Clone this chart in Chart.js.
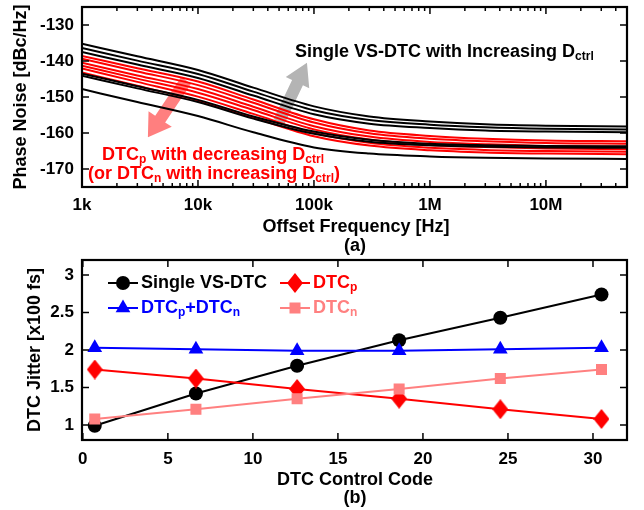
<!DOCTYPE html>
<html><head><meta charset="utf-8">
<script src="https://cdn.jsdelivr.net/npm/chart.js@4/dist/chart.umd.min.js"></script>
<style>
html,body{margin:0;padding:0;background:#fff;}
#wrap{position:relative;width:644px;height:510px;overflow:hidden;background:#fff;}
#c1{position:absolute;left:0;top:0;}
#c2{position:absolute;left:0;top:250px;}
</style></head><body>
<div id="wrap"><canvas id="c1" width="644" height="256"></canvas><canvas id="c2" width="644" height="260"></canvas></div>
<script>
// ---------- (a) Phase noise data ----------
const freqHz = [1e3, 3e3, 1e4, 3e4, 1e5, 3e5, 1e6, 3e6, 1e7, 5e7];
const freqTickValues = [1e3, 1e4, 1e5, 1e6, 1e7];
const freqTickLabels = ['1k', '10k', '100k', '1M', '10M'];
const pnTicks = [-170, -160, -150, -140, -130];

const pnSingle1 = [-135.2, -138.7, -142.5, -147.4, -152.6, -155.4, -156.8, -157.6, -158.0, -158.2];
const pnSingle2 = [-136.4, -139.9, -143.6, -148.5, -153.7, -156.4, -157.7, -158.4, -158.8, -159.0];
const pnSingle3 = [-137.5, -141.0, -144.7, -149.6, -154.8, -157.4, -158.6, -159.3, -159.6, -159.8];
const pnSingle4 = [-143.5, -147.0, -150.8, -155.4, -159.6, -161.9, -163.0, -163.4, -163.6, -163.7];
const pnSingle5 = [-144.1, -147.6, -151.4, -156.0, -160.2, -162.4, -163.4, -163.8, -164.0, -164.1];
const pnSingle6 = [-147.8, -151.4, -155.3, -159.8, -164.0, -165.7, -166.5, -166.9, -167.1, -167.2];

const pnDtc1 = [-138.6, -142.0, -145.7, -150.7, -156.2, -159.3, -160.8, -161.6, -162.1, -162.3];
const pnDtc2 = [-139.4, -142.9, -146.7, -151.6, -157.1, -160.1, -161.6, -162.3, -162.8, -163.0];
const pnDtc3 = [-140.5, -144.0, -147.8, -152.7, -158.1, -161.0, -162.5, -163.1, -163.6, -163.8];
const pnDtc4 = [-141.3, -144.9, -148.8, -153.6, -159.0, -161.8, -163.3, -163.9, -164.3, -164.5];
const pnDtc5 = [-142.1, -145.8, -149.9, -154.7, -160.0, -162.7, -164.1, -164.7, -165.0, -165.2];
const pnDtc6 = [-143.2, -146.9, -151.0, -155.7, -160.9, -163.5, -164.8, -165.4, -165.7, -165.9];

// annotation arrows in data coordinates [freq, dB]
const grayArrowTail = [50e3, -156.8], grayArrowTip = [87e3, -140.5];
const redArrowTail = [7.9e3, -145.4], redArrowTip = [3.7e3, -161.2];

// ---------- (b) Jitter data ----------
const dtcCode = [0.7, 6.65, 12.6, 18.6, 24.55, 30.5];
const jitterSingle = [0.99, 1.42, 1.79, 2.13, 2.43, 2.74];
const jitterSum = [2.03, 2.01, 1.99, 1.99, 2.01, 2.03];
const jitterDtcp = [1.74, 1.62, 1.48, 1.35, 1.21, 1.08];
const jitterDtcn = [1.08, 1.21, 1.35, 1.48, 1.62, 1.74];
const codeTicks = [0, 5, 10, 15, 20, 25, 30];
const jitterTicks = [1, 1.5, 2, 2.5, 3];

// ---------- helpers ----------
const FAM = "'Liberation Sans', Arial, Helvetica, sans-serif";
const fnt = s => 'bold ' + s + 'px ' + FAM;
const BLACK = '#000000', RED = '#ff0000', BLUE = '#0000ff', PINK = '#ff8080';

function drawRich(ctx, parts, x, y, align, color, size) {
  const sub = Math.round(size * 0.66);
  let w = 0;
  for (const [t, s] of parts) { ctx.font = fnt(s ? sub : size); w += ctx.measureText(t).width; }
  let cx = align === 'center' ? x - w / 2 : (align === 'right' ? x - w : x);
  ctx.save();
  ctx.fillStyle = color; ctx.textBaseline = 'middle'; ctx.textAlign = 'left';
  for (const [t, s] of parts) {
    ctx.font = fnt(s ? sub : size);
    ctx.fillText(t, cx, s ? y + size * 0.28 : y);
    cx += ctx.measureText(t).width;
  }
  ctx.restore();
}
function drawArrow(ctx, tx, ty, hx, hy, shaftW, headL, headW, color) {
  const dx = hx - tx, dy = hy - ty, L = Math.hypot(dx, dy), ux = dx / L, uy = dy / L, nx = -uy, ny = ux;
  const bx = hx - ux * headL, by = hy - uy * headL;
  ctx.save();
  ctx.beginPath();
  ctx.moveTo(tx + nx * shaftW / 2, ty + ny * shaftW / 2);
  ctx.lineTo(bx + nx * shaftW / 2, by + ny * shaftW / 2);
  ctx.lineTo(bx + nx * headW / 2, by + ny * headW / 2);
  ctx.lineTo(hx, hy);
  ctx.lineTo(bx - nx * headW / 2, by - ny * headW / 2);
  ctx.lineTo(bx - nx * shaftW / 2, by - ny * shaftW / 2);
  ctx.lineTo(tx - nx * shaftW / 2, ty - ny * shaftW / 2);
  ctx.closePath();
  ctx.fillStyle = color; ctx.fill();
  ctx.restore();
}
function line(ctx, x1, y1, x2, y2) { ctx.beginPath(); ctx.moveTo(x1, y1); ctx.lineTo(x2, y2); ctx.stroke(); }
function drawTextRot(ctx, text, x, y, size) {
  ctx.save(); ctx.translate(x, y); ctx.rotate(-Math.PI / 2);
  ctx.font = fnt(size); ctx.fillStyle = '#000'; ctx.textAlign = 'center'; ctx.textBaseline = 'middle';
  ctx.fillText(text, 0, 0); ctx.restore();
}

// diamond marker image (taller than wide)
const diamond = document.createElement('canvas');
diamond.width = 16; diamond.height = 20;
(function () {
  const c = diamond.getContext('2d'); c.fillStyle = RED; c.beginPath();
  c.moveTo(8, 0); c.lineTo(16, 10); c.lineTo(8, 20); c.lineTo(0, 10); c.closePath(); c.fill();
})();

const tickFont = { family: FAM, size: 17, weight: 'bold' };

// ---------- Chart (a) ----------
function pnSet(arr, color) {
  return { data: freqHz.map((f, i) => ({ x: f, y: arr[i] })), borderColor: color, borderWidth: 2,
    pointRadius: 0, fill: false, cubicInterpolationMode: 'monotone' };
}
const pnPlugin = {
  id: 'pnDeco',
  beforeDatasetsDraw(chart) {
    const ctx = chart.ctx, xs = chart.scales.x, ys = chart.scales.y;
    const P = p => [xs.getPixelForValue(p[0]), ys.getPixelForValue(p[1])];
    const gt = P(grayArrowTail), gh = P(grayArrowTip), rt = P(redArrowTail), rh = P(redArrowTip);
    drawArrow(ctx, gt[0], gt[1], gh[0], gh[1], 12, 22, 26, '#b4b4b4');
    drawArrow(ctx, rt[0], rt[1], rh[0], rh[1], 12, 22, 28, '#ff7f7f');
  },
  afterDraw(chart) {
    const ctx = chart.ctx, a = chart.chartArea, xs = chart.scales.x, ys = chart.scales.y;
    ctx.save();
    ctx.strokeStyle = '#000'; ctx.lineWidth = 1.5;
    for (let d = 1e3; d <= 1e7; d *= 10) {
      for (let m = 1; m <= 9; m++) {
        const px = xs.getPixelForValue(d * m);
        if (px >= a.right - 1) break;
        const len = m === 1 ? 7 : 4;
        line(ctx, px, a.bottom, px, a.bottom - len);
        line(ctx, px, a.top, px, a.top + len);
      }
    }
    for (const v of pnTicks) {
      const py = ys.getPixelForValue(v);
      line(ctx, a.left, py, a.left + 7, py);
      line(ctx, a.right, py, a.right - 7, py);
    }
    ctx.lineWidth = 2.2;
    ctx.strokeRect(a.left, a.top, a.right - a.left, a.bottom - a.top);
    ctx.restore();
    drawRich(ctx, [['Single VS-DTC with Increasing D', 0], ['ctrl', 1]], 295, 52, 'left', BLACK, 18);
    drawRich(ctx, [['DTC', 0], ['p', 1], [' with decreasing D', 0], ['ctrl', 1]], 213, 155, 'center', RED, 18);
    drawRich(ctx, [['(or DTC', 0], ['n', 1], [' with increasing D', 0], ['ctrl', 1], [')', 0]], 214, 174, 'center', RED, 18);
    drawTextRot(ctx, 'Phase Noise [dBc/Hz]', 21, (a.top + a.bottom) / 2, 18);
    drawRich(ctx, [['Offset Frequency [Hz]', 0]], 356, 227, 'center', BLACK, 18);
    drawRich(ctx, [['(a)', 0]], 355, 246, 'center', BLACK, 18);
  }
};

new Chart(document.getElementById('c1'), {
  type: 'line',
  data: { datasets: [
    pnSet(pnDtc1, RED), pnSet(pnDtc2, RED), pnSet(pnDtc3, RED), pnSet(pnDtc4, RED), pnSet(pnDtc5, RED), pnSet(pnDtc6, RED),
    pnSet(pnSingle1, BLACK), pnSet(pnSingle2, BLACK), pnSet(pnSingle3, BLACK), pnSet(pnSingle4, BLACK), pnSet(pnSingle5, BLACK), pnSet(pnSingle6, BLACK)
  ].map((d, i) => Object.assign(d, { order: 20 - i })) },
  options: {
    responsive: false, animation: false, events: [],
    layout: { padding: { left: 0, right: 17, top: 7, bottom: 0 } },
    plugins: { legend: { display: false }, tooltip: { enabled: false } },
    scales: {
      x: { type: 'logarithmic', min: 1e3, max: 5e7,
        grid: { display: false, drawTicks: false }, border: { display: false },
        afterBuildTicks: s => { s.ticks = freqTickValues.map(v => ({ value: v })); },
        ticks: { font: tickFont, color: '#000', padding: 8, maxRotation: 0, autoSkip: false,
          callback: (v, i) => freqTickLabels[i] },
        afterFit: s => { s.height = 256 - 187; s.paddingLeft = 0; s.paddingRight = 0; } },
      y: { type: 'linear', min: -175, max: -125,
        grid: { display: false, drawTicks: false }, border: { display: false },
        afterBuildTicks: s => { s.ticks = pnTicks.map(v => ({ value: v })); },
        ticks: { font: tickFont, color: '#000', padding: 8, autoSkip: false, callback: v => String(v) },
        afterFit: s => { s.width = 82; s.paddingTop = 0; s.paddingBottom = 0; } }
    }
  },
  plugins: [pnPlugin]
});

// ---------- Chart (b) ----------
function drawMarker(ctx, kind, x, y) {
  ctx.save();
  if (kind === 'circle') { ctx.fillStyle = BLACK; ctx.beginPath(); ctx.arc(x, y, 7, 0, Math.PI * 2); ctx.fill(); }
  else if (kind === 'triangle') {
    const r = 8.5; ctx.fillStyle = BLUE; ctx.beginPath();
    ctx.moveTo(x, y - r); ctx.lineTo(x + r * 0.866, y + r / 2); ctx.lineTo(x - r * 0.866, y + r / 2); ctx.closePath(); ctx.fill();
  } else if (kind === 'diamond') { ctx.drawImage(diamond, x - 8, y - 10); }
  else if (kind === 'square') { ctx.fillStyle = PINK; ctx.fillRect(x - 5.5, y - 5.5, 11, 11); }
  ctx.restore();
}
const jitPlugin = {
  id: 'jitDeco',
  afterDraw(chart) {
    const ctx = chart.ctx, a = chart.chartArea, xs = chart.scales.x, ys = chart.scales.y;
    ctx.save();
    ctx.strokeStyle = '#000'; ctx.lineWidth = 1.5;
    for (const v of codeTicks) {
      const px = xs.getPixelForValue(v);
      line(ctx, px, a.bottom, px, a.bottom - 7);
      line(ctx, px, a.top, px, a.top + 7);
    }
    for (const v of jitterTicks) {
      const py = ys.getPixelForValue(v);
      line(ctx, a.left, py, a.left + 7, py);
      line(ctx, a.right, py, a.right - 7, py);
    }
    ctx.lineWidth = 2.2;
    ctx.strokeRect(a.left, a.top, a.right - a.left, a.bottom - a.top);
    // legend
    const items = [
      { x: 108, y: 33, c: BLACK, m: 'circle', parts: [['Single VS-DTC', 0]] },
      { x: 280, y: 33, c: RED, m: 'diamond', parts: [['DTC', 0], ['p', 1]] },
      { x: 108, y: 58, c: BLUE, m: 'triangle', parts: [['DTC', 0], ['p', 1], ['+DTC', 0], ['n', 1]] },
      { x: 280, y: 58, c: PINK, m: 'square', parts: [['DTC', 0], ['n', 1]] }
    ];
    for (const it of items) {
      ctx.strokeStyle = it.c; ctx.lineWidth = 2;
      line(ctx, it.x, it.y, it.x + 30, it.y);
      drawMarker(ctx, it.m, it.x + 15, it.y);
      drawRich(ctx, it.parts, it.x + 33, it.y, 'left', it.c, 18);
    }
    ctx.restore();
    drawTextRot(ctx, 'DTC Jitter [x100 fs]', 35, (a.top + a.bottom) / 2, 18);
    drawRich(ctx, [['DTC Control Code', 0]], 355, 230, 'center', BLACK, 18);
    drawRich(ctx, [['(b)', 0]], 355, 248, 'center', BLACK, 18);
  }
};
function jitSet(arr, color, style, radius, order) {
  return { data: dtcCode.map((c, i) => ({ x: c, y: arr[i] })), borderColor: color, backgroundColor: color,
    pointBackgroundColor: color, pointBorderColor: color, pointBorderWidth: 0, borderWidth: 2,
    pointStyle: style, pointRadius: radius, fill: false, tension: 0, order: order };
}
new Chart(document.getElementById('c2'), {
  type: 'line',
  data: { datasets: [
    jitSet(jitterSingle, BLACK, 'circle', 7, 3),
    jitSet(jitterSum, BLUE, 'triangle', 8.5, 2),
    jitSet(jitterDtcp, RED, diamond, 8, 1),
    jitSet(jitterDtcn, PINK, 'rect', 7.8, 0)
  ] },
  options: {
    responsive: false, animation: false, events: [],
    layout: { padding: { left: 0, right: 17, top: 10, bottom: 0 } },
    plugins: { legend: { display: false }, tooltip: { enabled: false } },
    scales: {
      x: { type: 'linear', min: -0.05, max: 32,
        grid: { display: false, drawTicks: false }, border: { display: false },
        afterBuildTicks: s => { s.ticks = codeTicks.map(v => ({ value: v })); },
        ticks: { font: tickFont, color: '#000', padding: 9, maxRotation: 0, autoSkip: false, callback: v => String(v) },
        afterFit: s => { s.height = 70; s.paddingLeft = 0; s.paddingRight = 0; } },
      y: { type: 'linear', min: 0.8, max: 3.2,
        grid: { display: false, drawTicks: false }, border: { display: false },
        afterBuildTicks: s => { s.ticks = jitterTicks.map(v => ({ value: v })); },
        ticks: { font: tickFont, color: '#000', padding: 8, autoSkip: false, callback: v => String(v) },
        afterFit: s => { s.width = 82; s.paddingTop = 0; s.paddingBottom = 0; } }
    }
  },
  plugins: [jitPlugin]
});
</script>
</body></html>
